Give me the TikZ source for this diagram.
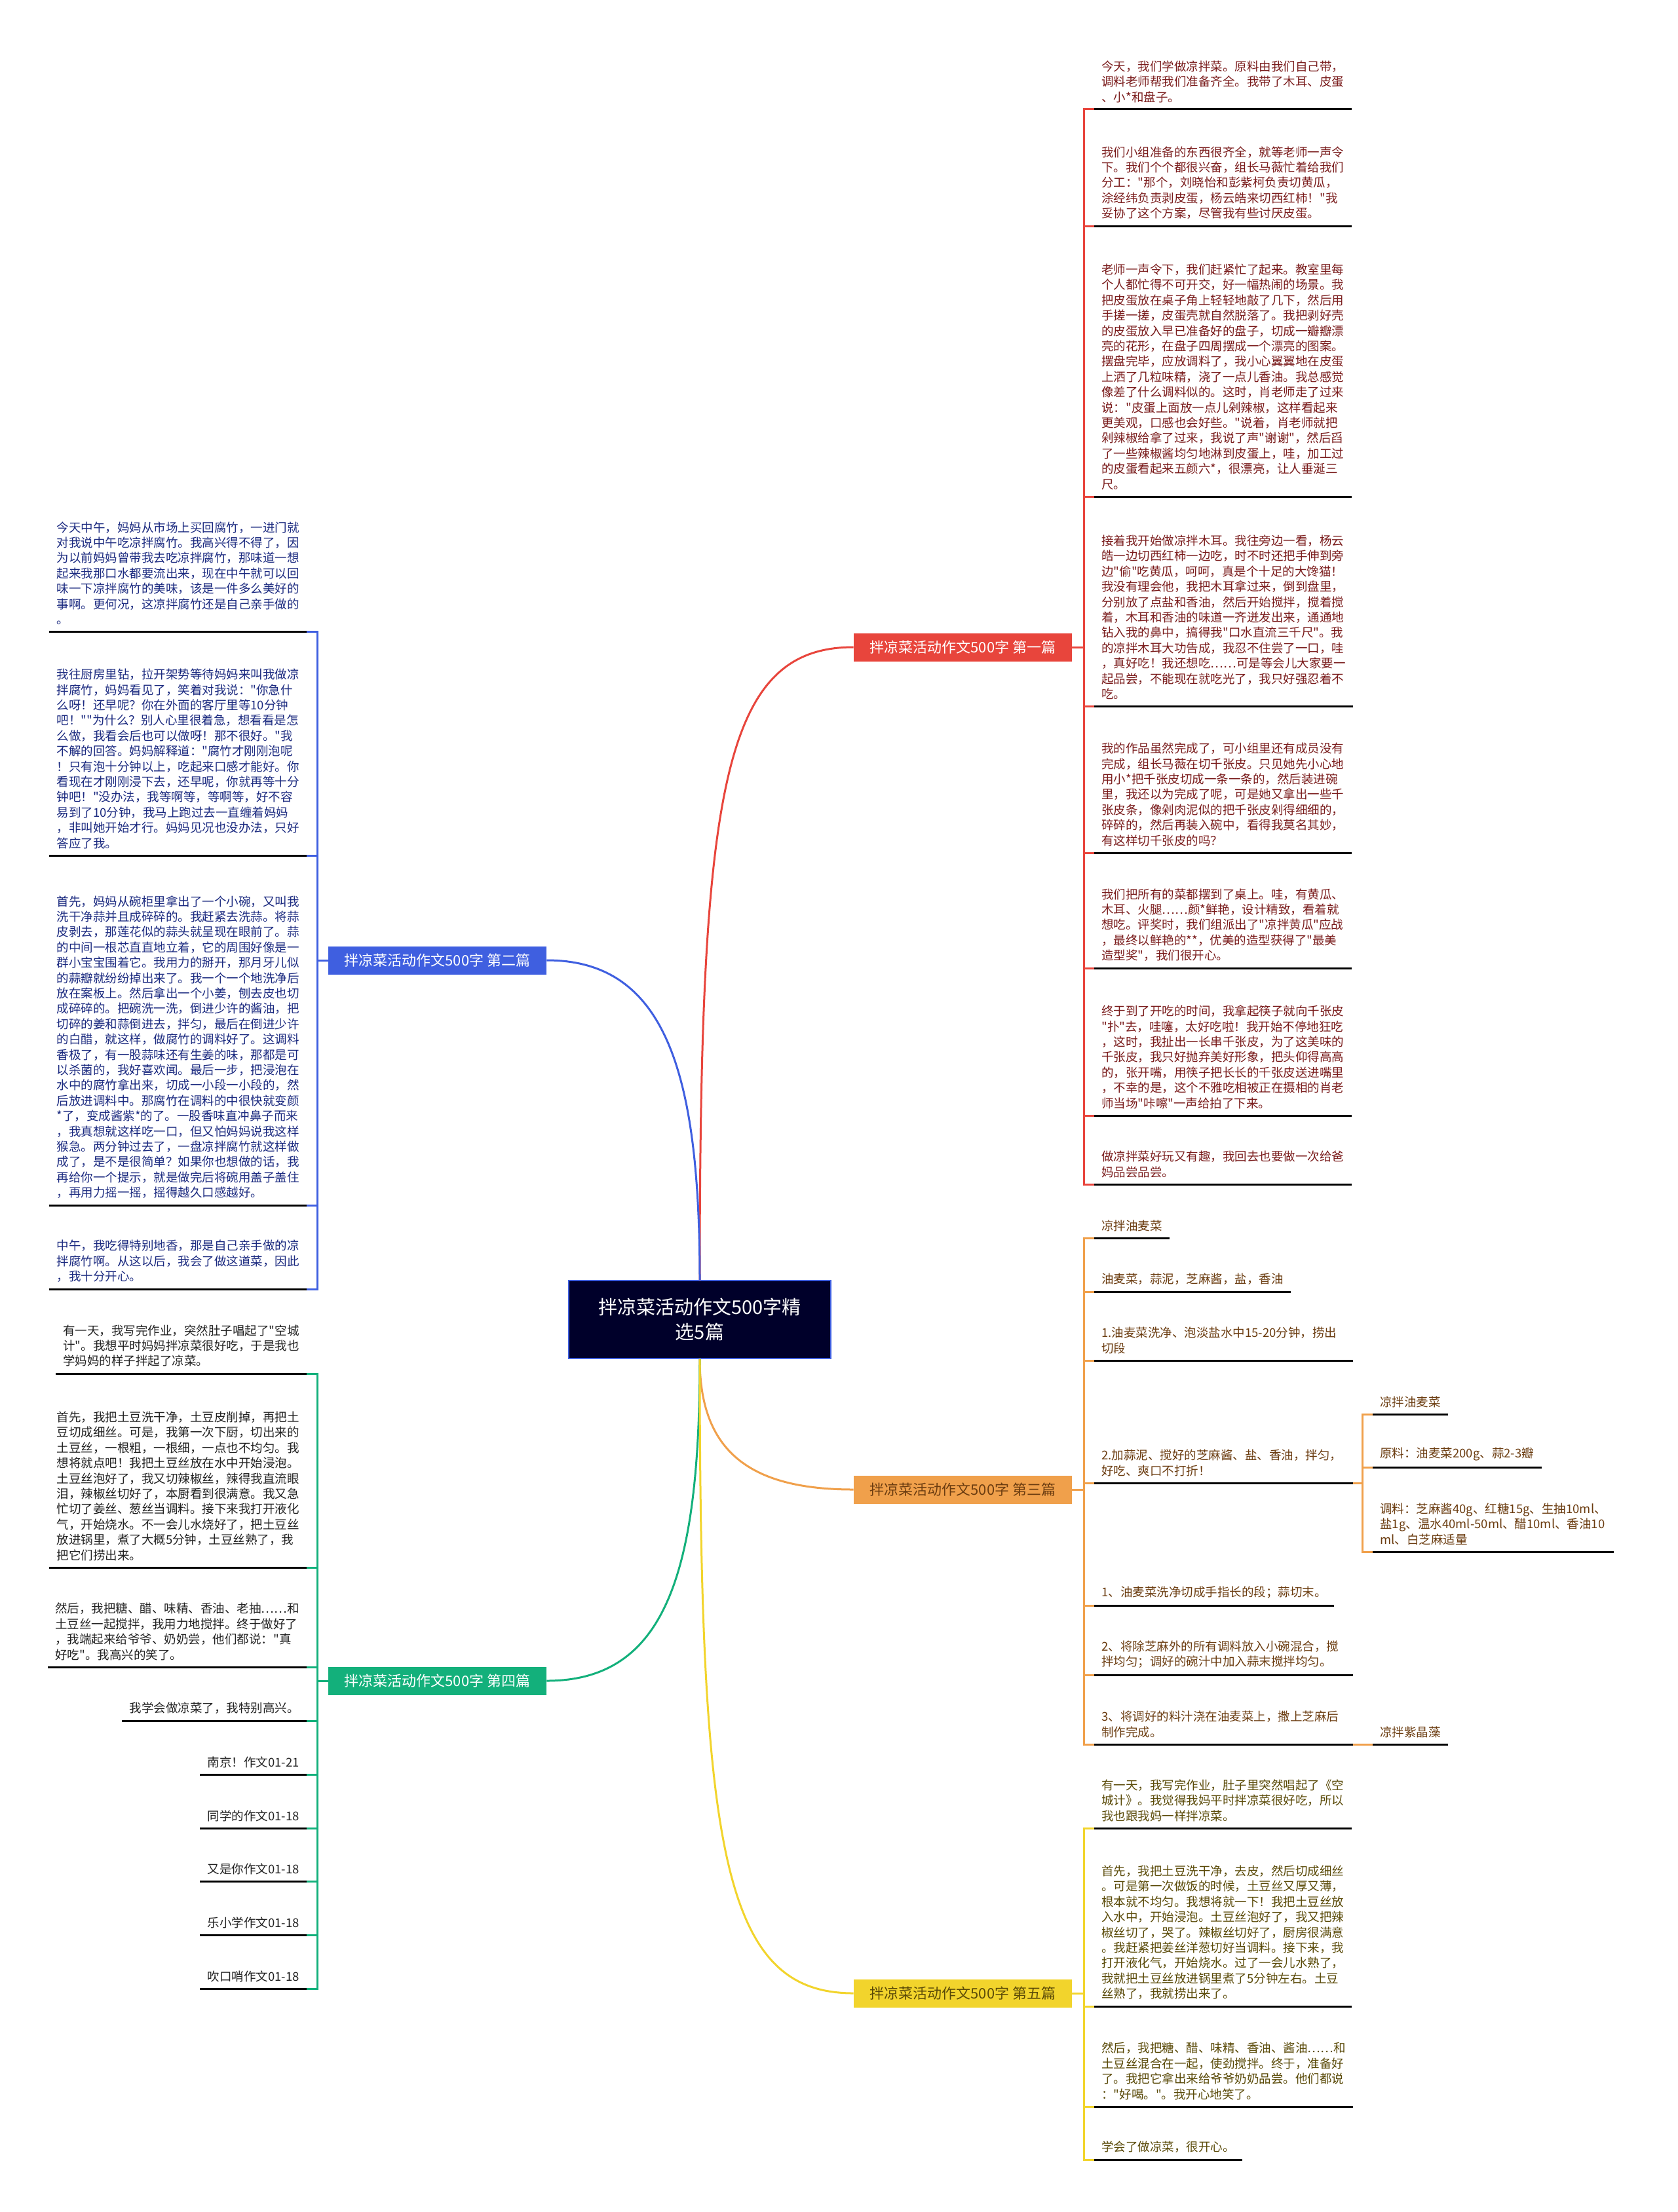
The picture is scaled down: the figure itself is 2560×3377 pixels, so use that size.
\documentclass[tikz,border=0pt]{standalone}
\usepackage{fontspec}
\setmainfont{Noto Sans CJK SC}[Ligatures=TeXOff]
\usepackage{xcolor}
\usepackage{tikz}
\usetikzlibrary{positioning,calc}
\definecolor{rootbg}{HTML}{00002A}
\definecolor{cred}{HTML}{E8453C}
\definecolor{cblue}{HTML}{3F5FE0}
\definecolor{corange}{HTML}{F0A04B}
\definecolor{cgreen}{HTML}{13B07B}
\definecolor{cyellow}{HTML}{F2D42C}
\definecolor{tred}{HTML}{7A1C1C}
\definecolor{tblue}{HTML}{1B2A80}
\definecolor{torange}{HTML}{6B3C10}
\definecolor{tgreen}{HTML}{222222}
\definecolor{tyellow}{HTML}{5A4A08}
\newcommand\leaffont{\fontsize{9.25pt}{11.7pt}\selectfont}

\begin{document}
\begin{tikzpicture}[x=0.5pt,y=-0.5pt,
  root/.style={draw=cblue,line width=0.6pt,fill=rootbg,text=white,minimum width=200pt,
               minimum height=59.5pt,inner sep=0pt,align=center,
               font=\fontsize{14.5pt}{19pt}\selectfont},
  branch/.style={fill=#1,minimum width=166.5pt,minimum height=21.5pt,inner sep=0pt,
                 text=white,font=\fontsize{11pt}{13pt}\selectfont},
  leafR/.style={anchor=south west,inner xsep=5.5pt,inner ysep=5pt,align=left,
                font=\leaffont,text=#1},
  leafL/.style={anchor=south east,inner xsep=5.5pt,inner ysep=5pt,align=left,
                font=\leaffont,text=#1},
  link/.style={draw=#1,line width=1.5pt},
  bus/.style={draw=#1,line width=1.5pt},
  uline/.style={draw=black,line width=1.5pt}
]
\useasboundingbox[fill=white] (0,0) rectangle (2560,3377);

% centre and the five branches
\node[root] (root) at (1068,2014.5) {拌凉菜活动作文500字精\\选5篇};
\node[branch=cred] (p1) at (1469.5,988) {拌凉菜活动作文500字 第一篇};
\node[branch=cblue] (p2) at (667.5,1466) {拌凉菜活动作文500字 第二篇};
\node[branch=corange,text=torange] (p3) at (1469.5,2274) {拌凉菜活动作文500字 第三篇};
\node[branch=cgreen] (p4) at (667.5,2566) {拌凉菜活动作文500字 第四篇};
\node[branch=cyellow,text=tyellow] (p5) at (1469.5,3043) {拌凉菜活动作文500字 第五篇};

\draw[link=cred] (root.north) .. controls +(0,-750) and +(-200,0) .. (p1.west);
\draw[link=cblue] (root.north) .. controls +(0,-320) and +(180,0) .. (p2.east);
\draw[link=corange] (root.south) .. controls +(0,140) and +(-160,0) .. (p3.west);
\draw[link=cgreen] (root.south) .. controls +(0,330) and +(180,0) .. (p4.east);
\draw[link=cyellow] (root.south) .. controls +(0,750) and +(-200,0) .. (p5.west);

\coordinate (busR) at (1654,0);
\coordinate (busL) at (484,0);
\coordinate (busS) at (2079,0);

% 第一篇
\node[leafR=tred] (r1) at (1670,167) {今天，我们学做凉拌菜。原料由我们自己带，\\调料老师帮我们准备齐全。我带了木耳、皮蛋\\、小*和盘子。};
\node[leafR=tred] (r2) at (1670,345) {我们小组准备的东西很齐全，就等老师一声令\\下。我们个个都很兴奋，组长马薇忙着给我们\\分工："那个，刘晓怡和彭紫柯负责切黄瓜，\\涂经纬负责剥皮蛋，杨云皓来切西红柿！"我\\妥协了这个方案，尽管我有些讨厌皮蛋。};
\node[leafR=tred] (r3) at (1670,758) {老师一声令下，我们赶紧忙了起来。教室里每\\个人都忙得不可开交，好一幅热闹的场景。我\\把皮蛋放在桌子角上轻轻地敲了几下，然后用\\手搓一搓，皮蛋壳就自然脱落了。我把剥好壳\\的皮蛋放入早已准备好的盘子，切成一瓣瓣漂\\亮的花形，在盘子四周摆成一个漂亮的图案。\\摆盘完毕，应放调料了，我小心翼翼地在皮蛋\\上洒了几粒味精，浇了一点儿香油。我总感觉\\像差了什么调料似的。这时，肖老师走了过来\\说："皮蛋上面放一点儿剁辣椒，这样看起来\\更美观，口感也会好些。"说着，肖老师就把\\剁辣椒给拿了过来，我说了声"谢谢"，然后舀\\了一些辣椒酱均匀地淋到皮蛋上，哇，加工过\\的皮蛋看起来五颜六*，很漂亮，让人垂涎三\\尺。};
\node[leafR=tred] (r4) at (1670,1078) {接着我开始做凉拌木耳。我往旁边一看，杨云\\皓一边切西红柿一边吃，时不时还把手伸到旁\\边"偷"吃黄瓜，呵呵，真是个十足的大馋猫！\\我没有理会他，我把木耳拿过来，倒到盘里，\\分别放了点盐和香油，然后开始搅拌，搅着搅\\着，木耳和香油的味道一齐迸发出来，通通地\\钻入我的鼻中，搞得我"口水直流三千尺"。我\\的凉拌木耳大功告成，我忍不住尝了一口，哇\\，真好吃！我还想吃……可是等会儿大家要一\\起品尝，不能现在就吃光了，我只好强忍着不\\吃。};
\node[leafR=tred] (r5) at (1670,1302) {我的作品虽然完成了，可小组里还有成员没有\\完成，组长马薇在切千张皮。只见她先小心地\\用小*把千张皮切成一条一条的，然后装进碗\\里，我还以为完成了呢，可是她又拿出一些千\\张皮条，像剁肉泥似的把千张皮剁得细细的，\\碎碎的，然后再装入碗中，看得我莫名其妙，\\有这样切千张皮的吗？};
\node[leafR=tred] (r6) at (1670,1478) {我们把所有的菜都摆到了桌上。哇，有黄瓜、\\木耳、火腿……颜*鲜艳，设计精致，看着就\\想吃。评奖时，我们组派出了"凉拌黄瓜"应战\\，最终以鲜艳的**，优美的造型获得了"最美\\造型奖"，我们很开心。};
\node[leafR=tred] (r7) at (1670,1703) {终于到了开吃的时间，我拿起筷子就向千张皮\\"扑"去，哇噻，太好吃啦！我开始不停地狂吃\\，这时，我扯出一长串千张皮，为了这美味的\\千张皮，我只好抛弃美好形象，把头仰得高高\\的，张开嘴，用筷子把长长的千张皮送进嘴里\\，不幸的是，这个不雅吃相被正在摄相的肖老\\师当场"咔嚓"一声给拍了下来。};
\node[leafR=tred] (r8) at (1670,1808) {做凉拌菜好玩又有趣，我回去也要做一次给爸\\妈品尝品尝。};

% 第二篇
\node[leafL=tblue] (u1) at (468,964) {今天中午，妈妈从市场上买回腐竹，一进门就\\对我说中午吃凉拌腐竹。我高兴得不得了，因\\为以前妈妈曾带我去吃凉拌腐竹，那味道一想\\起来我那口水都要流出来，现在中午就可以回\\味一下凉拌腐竹的美味，该是一件多么美好的\\事啊。更何况，这凉拌腐竹还是自己亲手做的\\。};
\node[leafL=tblue] (u2) at (468,1306) {我往厨房里钻，拉开架势等待妈妈来叫我做凉\\拌腐竹，妈妈看见了，笑着对我说："你急什\\么呀！还早呢？你在外面的客厅里等10分钟\\吧！""为什么？别人心里很着急，想看看是怎\\么做，我看会后也可以做呀！那不很好。"我\\不解的回答。妈妈解释道："腐竹才刚刚泡呢\\！只有泡十分钟以上，吃起来口感才能好。你\\看现在才刚刚浸下去，还早呢，你就再等十分\\钟吧！"没办法，我等啊等，等啊等，好不容\\易到了10分钟，我马上跑过去一直缠着妈妈\\，非叫她开始才行。妈妈见况也没办法，只好\\答应了我。};
\node[leafL=tblue] (u3) at (468,1840) {首先，妈妈从碗柜里拿出了一个小碗，又叫我\\洗干净蒜并且成碎碎的。我赶紧去洗蒜。将蒜\\皮剥去，那莲花似的蒜头就呈现在眼前了。蒜\\的中间一根芯直直地立着，它的周围好像是一\\群小宝宝围着它。我用力的掰开，那月牙儿似\\的蒜瓣就纷纷掉出来了。我一个一个地洗净后\\放在案板上。然后拿出一个小姜，刨去皮也切\\成碎碎的。把碗洗一洗，倒进少许的酱油，把\\切碎的姜和蒜倒进去，拌匀，最后在倒进少许\\的白醋，就这样，做腐竹的调料好了。这调料\\香极了，有一股蒜味还有生姜的味，那都是可\\以杀菌的，我好喜欢闻。最后一步，把浸泡在\\水中的腐竹拿出来，切成一小段一小段的，然\\后放进调料中。那腐竹在调料的中很快就变颜\\*了，变成酱紫*的了。一股香味直冲鼻子而来\\，我真想就这样吃一口，但又怕妈妈说我这样\\猴急。两分钟过去了，一盘凉拌腐竹就这样做\\成了，是不是很简单？如果你也想做的话，我\\再给你一个提示，就是做完后将碗用盖子盖住\\，再用力摇一摇，摇得越久口感越好。};
\node[leafL=tblue] (u4) at (468,1968) {中午，我吃得特别地香，那是自己亲手做的凉\\拌腐竹啊。从这以后，我会了做这道菜，因此\\，我十分开心。};

% 第三篇
\node[leafR=torange] (o1) at (1670,1890) {凉拌油麦菜};
\node[leafR=torange] (o2) at (1670,1972) {油麦菜，蒜泥，芝麻酱，盐，香油};
\node[leafR=torange,text width=186pt] (o3) at (1670,2077) {1.油麦菜洗净、泡淡盐水中15-20分钟，捞出\\切段};
\node[leafR=torange,text width=186pt] (o4) at (1670,2264) {2.加蒜泥、搅好的芝麻酱、盐、香油，拌匀，\\好吃、爽口不打折！};
\node[leafR=torange] (o5) at (1670,2451) {1、油麦菜洗净切成手指长的段；蒜切末。};
\node[leafR=torange,text width=186pt] (o6) at (1670,2557) {2、将除芝麻外的所有调料放入小碗混合，搅\\拌均匀；调好的碗汁中加入蒜末搅拌均匀。};
\node[leafR=torange,text width=186pt] (o7) at (1670,2663) {3、将调好的料汁浇在油麦菜上，撒上芝麻后\\制作完成。};
\node[leafR=torange] (s1) at (2095,2159) {凉拌油麦菜};
\node[leafR=torange] (s2) at (2095,2240) {原料：油麦菜200g、蒜2-3瓣};
\node[leafR=torange] (s3) at (2095,2369) {调料：芝麻酱40g、红糖15g、生抽10ml、\\盐1g、温水40ml-50ml、醋10ml、香油10\\ml、白芝麻适量};
\node[leafR=torange] (s4) at (2095,2663) {凉拌紫晶藻};

% 第四篇
\node[leafL=tgreen] (g1) at (468,2097) {有一天，我写完作业，突然肚子唱起了"空城\\计"。我想平时妈妈拌凉菜很好吃，于是我也\\学妈妈的样子拌起了凉菜。};
\node[leafL=tgreen] (g2) at (468,2393) {首先，我把土豆洗干净，土豆皮削掉，再把土\\豆切成细丝。可是，我第一次下厨，切出来的\\土豆丝，一根粗，一根细，一点也不均匀。我\\想将就点吧！我把土豆丝放在水中开始浸泡。\\土豆丝泡好了，我又切辣椒丝，辣得我直流眼\\泪，辣椒丝切好了，本厨看到很满意。我又急\\忙切了姜丝、葱丝当调料。接下来我打开液化\\气，开始烧水。不一会儿水烧好了，把土豆丝\\放进锅里，煮了大概5分钟，土豆丝熟了，我\\把它们捞出来。};
\node[leafL=tgreen] (g3) at (468,2545) {然后，我把糖、醋、味精、香油、老抽……和\\土豆丝一起搅拌，我用力地搅拌。终于做好了\\，我端起来给爷爷、奶奶尝，他们都说："真\\好吃"。我高兴的笑了。};
\node[leafL=tgreen] (g4) at (468,2627) {我学会做凉菜了，我特别高兴。};
\node[leafL=tgreen] (g5) at (468,2709) {南京！作文01-21};
\node[leafL=tgreen] (g6) at (468,2791) {同学的作文01-18};
\node[leafL=tgreen] (g7) at (468,2872) {又是你作文01-18};
\node[leafL=tgreen] (g8) at (468,2954) {乐小学作文01-18};
\node[leafL=tgreen] (g9) at (468,3036) {吹口哨作文01-18};

% 第五篇
\node[leafR=tyellow] (y1) at (1670,2791) {有一天，我写完作业，肚子里突然唱起了《空\\城计》。我觉得我妈平时拌凉菜很好吃，所以\\我也跟我妈一样拌凉菜。};
\node[leafR=tyellow] (y2) at (1670,3063) {首先，我把土豆洗干净，去皮，然后切成细丝\\。可是第一次做饭的时候，土豆丝又厚又薄，\\根本就不均匀。我想将就一下！我把土豆丝放\\入水中，开始浸泡。土豆丝泡好了，我又把辣\\椒丝切了，哭了。辣椒丝切好了，厨房很满意\\。我赶紧把姜丝洋葱切好当调料。接下来，我\\打开液化气，开始烧水。过了一会儿水熟了，\\我就把土豆丝放进锅里煮了5分钟左右。土豆\\丝熟了，我就捞出来了。};
\node[leafR=tyellow] (y3) at (1670,3216) {然后，我把糖、醋、味精、香油、酱油……和\\土豆丝混合在一起，使劲搅拌。终于，准备好\\了。我把它拿出来给爷爷奶奶品尝。他们都说\\："好喝。"。我开心地笑了。};
\node[leafR=tyellow] (y4) at (1670,3297) {学会了做凉菜，很开心。};

% buses
\draw[bus=cred] (p1.east) -- (p1.east -| busR);
\draw[bus=cred] (r1.south west) -- (r1.south west -| busR) -- (r8.south west -| busR) -- (r8.south west);
\foreach \i in {2,...,7} {\draw[bus=cred] (r\i.south west -| busR) -- (r\i.south west);}

\draw[bus=cblue] (p2.west) -- (p2.west -| busL);
\draw[bus=cblue] (u1.south east) -- (u1.south east -| busL) -- (u4.south east -| busL) -- (u4.south east);
\foreach \i in {2,3} {\draw[bus=cblue] (u\i.south east -| busL) -- (u\i.south east);}

\draw[bus=corange] (p3.east) -- (p3.east -| busR);
\draw[bus=corange] (o1.south west) -- (o1.south west -| busR) -- (o7.south west -| busR) -- (o7.south west);
\foreach \i in {2,...,6} {\draw[bus=corange] (o\i.south west -| busR) -- (o\i.south west);}
\draw[bus=corange] (o4.south east) -- (o4.south east -| busS);
\draw[bus=corange] (s1.south west) -- (s1.south west -| busS) -- (s3.south west -| busS) -- (s3.south west);
\draw[bus=corange] (s2.south west -| busS) -- (s2.south west);
\draw[bus=corange] (o7.south east) -- (s4.south west);

\draw[bus=cgreen] (p4.west) -- (p4.west -| busL);
\draw[bus=cgreen] (g1.south east) -- (g1.south east -| busL) -- (g9.south east -| busL) -- (g9.south east);
\foreach \i in {2,...,8} {\draw[bus=cgreen] (g\i.south east -| busL) -- (g\i.south east);}

\draw[bus=cyellow] (p5.east) -- (p5.east -| busR);
\draw[bus=cyellow] (y1.south west) -- (y1.south west -| busR) -- (y4.south west -| busR) -- (y4.south west);
\foreach \i in {2,3} {\draw[bus=cyellow] (y\i.south west -| busR) -- (y\i.south west);}

% underlines
\foreach \i in {1,...,8} {\draw[uline] (r\i.south west) -- (r\i.south east);}
\foreach \i in {1,...,4} {\draw[uline] (u\i.south west) -- (u\i.south east);}
\foreach \i in {1,...,7} {\draw[uline] (o\i.south west) -- (o\i.south east);}
\foreach \i in {1,...,4} {\draw[uline] (s\i.south west) -- (s\i.south east);}
\foreach \i in {1,...,9} {\draw[uline] (g\i.south west) -- (g\i.south east);}
\foreach \i in {1,...,4} {\draw[uline] (y\i.south west) -- (y\i.south east);}
\end{tikzpicture}
\end{document}
